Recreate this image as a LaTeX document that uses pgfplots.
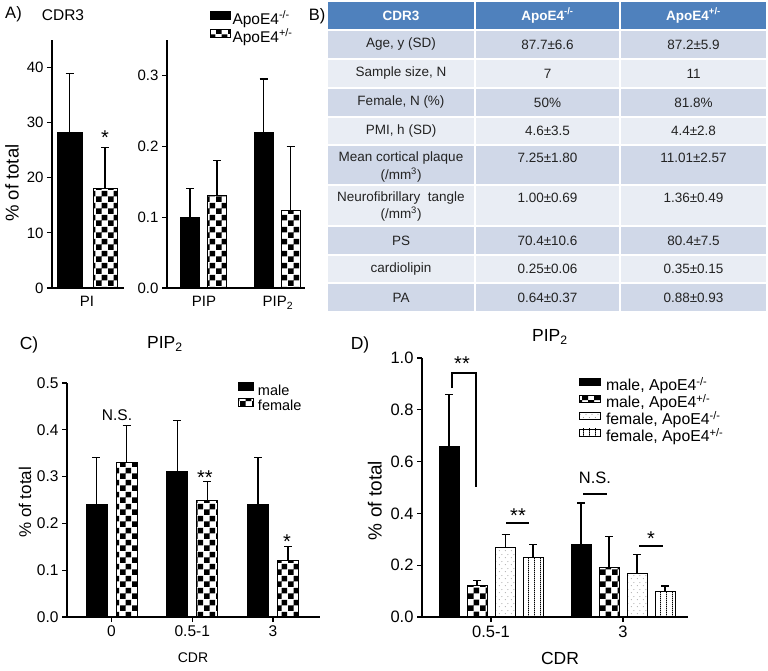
\documentclass[border=0pt]{standalone}
\usepackage{pgfplots}
\pgfplotsset{compat=1.18}
\usepackage{fontspec}
\setmainfont{Liberation Sans}
\usetikzlibrary{patterns.meta}

\newcommand{\fs}[1]{\fontsize{#1}{#1}\selectfont}

\definecolor{hdrblue}{RGB}{79,129,189}
\definecolor{rowdark}{RGB}{208,216,232}
\definecolor{rowlight}{RGB}{233,237,244}
\definecolor{txt}{RGB}{35,35,35}

% bar fills
\tikzdeclarepattern{
  name=bigcheck, type=uncolored,
  bottom left={(0pt,0pt)}, top right={(12pt,12pt)}, tile size={(12pt,12pt)},
  code={\pgfpathrectangle{\pgfpointorigin}{\pgfpoint{6pt}{6pt}}
        \pgfpathrectangle{\pgfpoint{6pt}{6pt}}{\pgfpoint{6pt}{6pt}}
        \pgfusepath{fill}}
}
\tikzdeclarepattern{
  name=sparsedots, type=uncolored,
  bottom left={(0pt,0pt)}, top right={(6pt,7pt)}, tile size={(6pt,7pt)},
  code={\pgfpathcircle{\pgfpoint{1.5pt}{1.5pt}}{0.5pt}
        \pgfpathcircle{\pgfpoint{4.5pt}{5pt}}{0.5pt}
        \pgfusepath{fill}}
}
\tikzdeclarepattern{
  name=vlines, type=uncolored,
  bottom left={(0pt,0pt)}, top right={(5.5pt,2pt)}, tile size={(5.5pt,2pt)},
  code={\pgfpathrectangle{\pgfpointorigin}{\pgfpoint{0.9pt}{2pt}}\pgfusepath{fill}}
}

\tikzset{sig/.style={anchor=base, inner sep=0pt, font=\fs{20}}}
\pgfplotsset{
  panel/.style={
    scale only axis, anchor=south west, clip=false,
    axis x line*=bottom, axis y line*=left,
    axis line style={line width=1.4pt, black},
    tick align=outside, major tick length=5pt,
    tick style={black, line width=1.2pt},
    ymin=0,
    /pgf/number format/assume math mode=true,
  },
  onedec/.style={yticklabel style={/pgf/number format/.cd, fixed, fixed zerofill, precision=1}},
  mybar/.style={ybar, bar shift=0pt, draw=black, line width=0.9pt,
    legend image code/.code={\draw[##1, line width=0.8pt] (0pt,\legb) rectangle (\legw,\legt);},
    error bars/y dir=plus, error bars/y explicit,
    error bars/error bar style={line width=1.2pt, black, solid},
    error bars/error mark options={rotate=90, line width=1.2pt, black, mark size=4pt}},
  leg/.style={legend style={draw=none, fill=none, anchor=north west, row sep=0pt,
    cells={anchor=west}, /tikz/every odd column/.append style={column sep=#1}}},
}

\begin{document}
\begin{tikzpicture}
\fill[white] (0pt,0pt) rectangle (768pt,-670pt);
\useasboundingbox (0pt,0pt) rectangle (768pt,-670pt);

% ---------- panel A, PI ----------
\def\legw{20pt}\def\legb{1.5pt}\def\legt{9pt}
\begin{axis}[panel, at={(52pt,-288pt)}, width=72pt, height=248pt,
  xmin=0, xmax=72, ymax=45, ytick={0,10,20,30,40},
  xtick={35}, xticklabels={PI}, xtick style={draw=none},
  tick label style={font=\fs{15}},
  ylabel={\% of total},
  ylabel style={at={(axis description cs:-0.556,0.423)}, anchor=center, font=\fs{18.5}}]
\addplot[mybar, bar width=25, fill=black] coordinates {(17.5,28.2) +- (0,10.7)};
\addplot[mybar, bar width=24, pattern=bigcheck, pattern color=black] coordinates {(53,18.0) +- (0,7.5)};
\node[sig] at (axis cs:53,26.0) {*};
\end{axis}

% ---------- panel A, PIP / PIP2 ----------
\begin{axis}[panel, onedec, at={(167pt,-288pt)}, width=138pt, height=248pt,
  xmin=0, xmax=138, ymax=0.35, ytick={0,0.1,0.2,0.3},
  xtick={37,111}, xticklabels={PIP,PIP\textsubscript{2}}, xtick style={draw=none},
  tick label style={font=\fs{15}},
  leg=1.5pt,
  legend style={at={(axis description cs:0.29,1.125)}, font=\fs{15.5}, row sep=1pt,
    nodes={inner sep=0pt, text height=11pt, text depth=4pt}}]
\addplot[mybar, bar width=19, fill=black] coordinates {(23,0.10) +- (0,0.04) (96.5,0.22) +- (0,0.075)};
\addlegendentry{ApoE4\textsuperscript{-/-}}
\addplot[mybar, bar width=19, pattern=bigcheck, pattern color=black] coordinates {(50,0.13) +- (0,0.05) (123.5,0.11) +- (0,0.09)};
\addlegendentry{ApoE4\textsuperscript{+/-}}
\end{axis}

% ---------- panel C ----------
\def\legw{15pt}\def\legb{1pt}\def\legt{9pt}
\begin{axis}[panel, onedec, at={(67pt,-617pt)}, width=253pt, height=234pt,
  xmin=0, xmax=253, ymax=0.5, ytick={0,0.1,0.2,0.3,0.4,0.5},
  xtick={44.5,125.25,206}, xticklabels={0,0.5-1,3},
  tick label style={font=\fs{15.5}},
  xlabel={CDR}, xlabel style={at={(axis description cs:0.498,-0.175)}, anchor=center, font=\fs{14}},
  ylabel={\% of total}, ylabel style={at={(axis description cs:-0.166,0.49)}, anchor=center, font=\fs{17}},
  title={PIP\textsubscript{2}}, title style={at={(axis description cs:0.387,1.141)}, anchor=center, font=\fs{17.5}},
  leg=4pt,
  legend style={at={(axis description cs:0.664,1.013)}, font=\fs{14.5},
    nodes={inner sep=0pt, text height=10pt, text depth=3pt}}]
\addplot[mybar, bar width=21, fill=black] coordinates {(29.5,0.24) +- (0,0.10) (110.25,0.31) +- (0,0.11) (191,0.24) +- (0,0.10)};
\addlegendentry{male}
\addplot[mybar, bar width=21, pattern=bigcheck, pattern color=black] coordinates {(59.5,0.33) +- (0,0.08) (140.25,0.25) +- (0,0.04) (221,0.12) +- (0,0.03)};
\addlegendentry{female}
\node[font=\fs{15.5}, inner sep=0pt] at (axis cs:50,0.432) {N.S.};
\node[sig] at (axis cs:138,0.283) {**};
\node[sig] at (axis cs:220,0.146) {*};
\end{axis}

% ---------- panel D ----------
\def\legw{21pt}\def\legb{2pt}\def\legt{9pt}
\begin{axis}[panel, onedec, at={(422pt,-617pt)}, width=266pt, height=259pt,
  xmin=0, xmax=266, ymax=1.0, ytick={0,0.2,0.4,0.6,0.8,1.0},
  xtick={69,201}, xticklabels={0.5-1,3},
  tick label style={font=\fs{16.5}},
  xlabel={CDR}, xlabel style={at={(axis description cs:0.519,-0.162)}, anchor=center, font=\fs{17.5}},
  ylabel={\% of total}, ylabel style={at={(axis description cs:-0.177,0.45)}, anchor=center, font=\fs{19}},
  title={PIP\textsubscript{2}}, title style={at={(axis description cs:0.481,1.058)}, anchor=center, font=\fs{17.5}},
  leg=5pt,
  legend style={at={(axis description cs:0.579,0.932)}, font=\fs{15.8},
    nodes={inner sep=0pt, text height=11pt, text depth=4pt}}]
\addplot[mybar, bar width=20, fill=black] coordinates {(27,0.66) +- (0,0.20) (159,0.28) +- (0,0.16)};
\addlegendentry{male, ApoE4\textsuperscript{-/-}}
\addplot[mybar, bar width=20, pattern=bigcheck, pattern color=black] coordinates {(55,0.12) +- (0,0.02) (187,0.19) +- (0,0.12)};
\addlegendentry{male, ApoE4\textsuperscript{+/-}}
\addplot[mybar, bar width=20, pattern=sparsedots, pattern color=black!55] coordinates {(83.5,0.27) +- (0,0.05) (215,0.17) +- (0,0.07)};
\addlegendentry{female, ApoE4\textsuperscript{-/-}}
\addplot[mybar, bar width=20, pattern=vlines, pattern color=black] coordinates {(111,0.23) +- (0,0.05) (243,0.10) +- (0,0.02)};
\addlegendentry{female, ApoE4\textsuperscript{+/-}}
% significance marks
\draw[line width=1.1pt] (axis cs:30,0.884) -- (axis cs:30,0.942) -- (axis cs:54,0.942) -- (axis cs:54,0.502);
\node[sig] at (axis cs:40,0.951) {**};
\draw[line width=1.1pt] (axis cs:84,0.363) -- (axis cs:107,0.363);
\node[sig] at (axis cs:96,0.364) {**};
\draw[line width=1.1pt] (axis cs:161,0.475) -- (axis cs:185,0.475);
\node[font=\fs{16.5}, inner sep=0pt] at (axis cs:173,0.537) {N.S.};
\draw[line width=1.1pt] (axis cs:217,0.274) -- (axis cs:241,0.274);
\node[sig] at (axis cs:229,0.276) {*};
\end{axis}

% ---------- labels and table ----------
\begin{scope}[x=1pt, y=-1pt]
\node[font=\fs{16.5}] at (13.5,14) {A)};
\node[font=\fs{15.5}] at (63,15) {CDR3};
\node[font=\fs{16.5}] at (317,16) {B)};
\node[font=\fs{17.5}] at (29,345) {C)};
\node[font=\fs{17.5}] at (360,345) {D)};

\foreach \ya/\yb/\c in {2/29/hdrblue,31/58/rowdark,60/87/rowlight,89/116/rowdark,
    118/144/rowlight,146/184/rowdark,186/225/rowlight,227/254/rowdark,256/282/rowlight,284/311/rowdark}{
  \fill[\c] (328,\ya) rectangle (474,\yb);
  \fill[\c] (476,\ya) rectangle (619,\yb);
  \fill[\c] (621,\ya) rectangle (766,\yb);
}
\begin{scope}[every node/.style={font=\fs{13.5}, text=txt, inner sep=0pt}]
\node[font=\fs{13.5}\bfseries, text=white] at (401,15.5) {CDR3};
\node[font=\fs{13.5}\bfseries, text=white] at (547.5,15.5) {ApoE4\textsuperscript{-/-}};
\node[font=\fs{13.5}\bfseries, text=white] at (693.5,15.5) {ApoE4\textsuperscript{+/-}};
\foreach \y/\a/\b/\cc in {44.5/{Age, y (SD)}/{87.7±6.6}/{87.2±5.9},
    73.5/{Sample size, N}/{7}/{11},
    102.5/{Female, N (\%)}/{50\%}/{81.8\%},
    131/{PMI, h (SD)}/{4.6±3.5}/{4.4±2.8},
    240.5/{PS}/{70.4±10.6}/{80.4±7.5},
    269/{cardiolipin}/{0.25±0.06}/{0.35±0.15},
    297.5/{PA}/{0.64±0.37}/{0.88±0.93}}{
  \node at (401,\y) {\a};
  \node at (547.5,\y) {\b};
  \node at (693.5,\y) {\cc};
}
\node at (401,158) {Mean cortical plaque};
\node at (401,175) {(/mm\textsuperscript{3})};
\node at (547.5,158) {7.25±1.80};
\node at (693.5,158) {11.01±2.57};
\node at (401,198) {Neurofibrillary\ \ tangle};
\node at (401,214) {(/mm\textsuperscript{3})};
\node at (547.5,198) {1.00±0.69};
\node at (693.5,198) {1.36±0.49};
\end{scope}
\end{scope}
\end{tikzpicture}
\end{document}
